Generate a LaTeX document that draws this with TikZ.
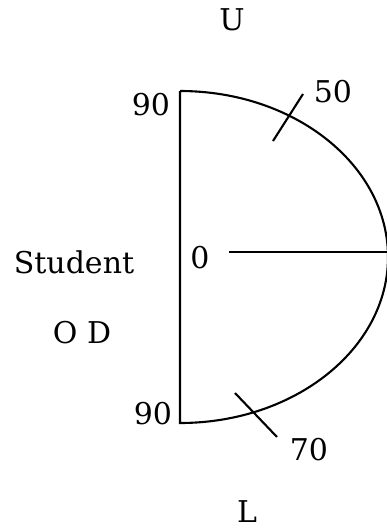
\documentclass[tikz,border=0pt]{standalone}
\usepackage{fontspec}
\setmainfont{DejaVu Serif}
\usepackage{tikz}
\usetikzlibrary{positioning, calc}

\begin{document}
\begin{tikzpicture}[x=1pt, y=-1pt,
          lbl/.style={inner sep=0pt, font=\fontsize{30}{36}\selectfont},
          edge/.style={line width=2.1pt, black},
          tickmark/.style={line width=2.1pt, black}
        ]
        \useasboundingbox (0,0) rectangle (387,531);

        % Outer labels
        \node[lbl] (lblU)    at (232, 20)  {U};
        \node[lbl] (lblL)    at (247, 512) {L};
        \node[lbl] (student) at (74, 262)  {Student};
        \node[lbl] (od)      at (82, 333)  {O D};

        % Scale labels
        \node[lbl] (top90) at (151, 105) {90};
        \node[lbl] (bot90) at (153, 414) {90};
        \node[lbl] (zero)  at (200, 258) {0};
        \node[lbl] (n50)   at (333, 92)  {50};
        \node[lbl] (n70)   at (309, 450) {70};

        % Half disc
        \coordinate (ctop) at (180, 91);
        \coordinate (cbot) at (180, 423);
        \draw[edge] (ctop) arc[start angle=-90, end angle=90,
                                x radius=208, y radius=166] -- (ctop);

        % Middle line
        \coordinate (mstart) at (229, 252);
        \coordinate (mend)   at (388, 252);
        \draw[edge] (mstart) -- (mend);

        % Ticks
        \coordinate (t50a) at (273, 141);
        \coordinate (t50b) at (303, 94);
        \coordinate (t70a) at (235, 393);
        \coordinate (t70b) at (277, 437);
        \draw[tickmark] (t50a) -- (t50b);
        \draw[tickmark] (t70a) -- (t70b);
      \end{tikzpicture}
\end{document}
